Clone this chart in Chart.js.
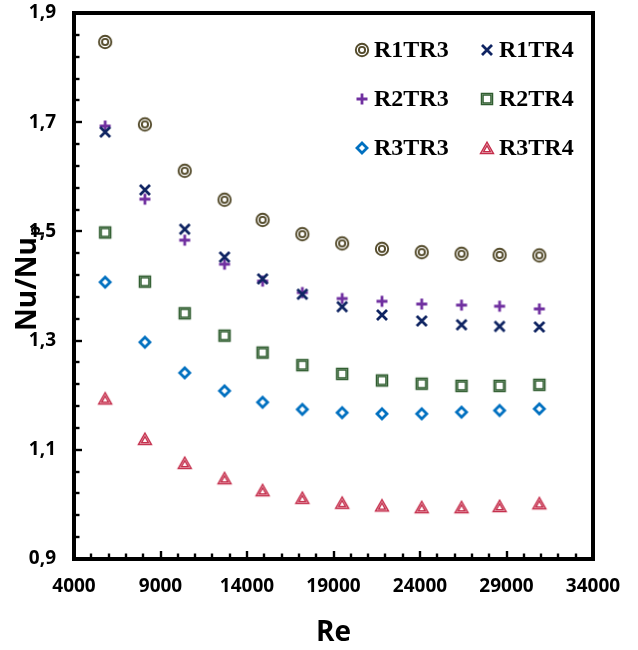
<!DOCTYPE html>
<html>
<head>
<meta charset="utf-8">
<script src="https://cdn.jsdelivr.net/npm/chart.js@4.4.0/dist/chart.umd.min.js"></script>
<style>
  html, body { margin: 0; padding: 0; background: #ffffff; }
  #wrap { width: 638px; height: 650px; }
</style>
</head>
<body>
<div id="wrap"><canvas id="c" width="638" height="650"></canvas></div>
<script>
// ---- data ----
const reValues = [5800, 8100, 10400, 12700, 14900, 17200, 19500, 21800, 24100, 26400, 28600, 30900];
const r1tr3 = [1.847, 1.696, 1.611, 1.558, 1.521, 1.495, 1.478, 1.468, 1.462, 1.459, 1.457, 1.456];
const r1tr4 = [1.682, 1.576, 1.504, 1.453, 1.413, 1.385, 1.362, 1.347, 1.336, 1.329, 1.326, 1.325];
const r2tr3 = [1.693, 1.559, 1.484, 1.440, 1.409, 1.388, 1.377, 1.372, 1.367, 1.365, 1.363, 1.358];
const r2tr4 = [1.498, 1.408, 1.350, 1.309, 1.278, 1.255, 1.239, 1.227, 1.221, 1.217, 1.217, 1.219];
const r3tr3 = [1.407, 1.297, 1.241, 1.208, 1.187, 1.174, 1.168, 1.166, 1.166, 1.169, 1.172, 1.175];
const r3tr4 = [1.194, 1.120, 1.076, 1.048, 1.026, 1.012, 1.003, 0.998, 0.995, 0.995, 0.997, 1.002];
const seriesNames = ['R1TR3', 'R1TR4', 'R2TR3', 'R2TR4', 'R3TR3', 'R3TR4'];
const xTickValues = [4000, 9000, 14000, 19000, 24000, 29000, 34000];
const yTickValues = [0.9, 1.1, 1.3, 1.5, 1.7, 1.9];
const xMinorStep = 1000;
const yMinorStep = 0.04;

// ---- marker images ----
function makeMarker(kind) {
  const c = document.createElement('canvas');
  c.width = 18; c.height = 18;
  const g = c.getContext('2d');
  g.translate(9, 9);
  g.lineJoin = 'miter';
  if (kind === 'dcircle') {
    g.strokeStyle = '#544b2b';
    g.lineWidth = 1.9;
    g.beginPath(); g.arc(0, 0, 6.2, 0, Math.PI * 2); g.stroke();
    g.beginPath(); g.arc(0, 0, 3.1, 0, Math.PI * 2); g.stroke();
  } else if (kind === 'cross') {
    g.strokeStyle = '#0f2462';
    g.lineWidth = 2.8;
    g.beginPath(); g.moveTo(-5, -5); g.lineTo(5, 5); g.moveTo(5, -5); g.lineTo(-5, 5); g.stroke();
  } else if (kind === 'plus') {
    g.strokeStyle = '#7030a0';
    g.lineWidth = 2.8;
    g.beginPath(); g.moveTo(-5.5, 0); g.lineTo(5.5, 0); g.moveTo(0, -5.5); g.lineTo(0, 5.5); g.stroke();
  } else if (kind === 'dsquare') {
    g.fillStyle = '#93b193';
    g.fillRect(-6, -6, 12, 12);
    g.fillStyle = '#ffffff';
    g.fillRect(-3.8, -3.8, 7.6, 7.6);
    g.strokeStyle = '#2f5c2f';
    g.lineWidth = 1.3;
    g.strokeRect(-5.6, -5.6, 11.2, 11.2);
    g.strokeRect(-3.9, -3.9, 7.8, 7.8);
  } else if (kind === 'diamond') {
    g.strokeStyle = '#0070c0';
    g.lineWidth = 2.8;
    g.beginPath(); g.moveTo(0, -5); g.lineTo(5, 0); g.lineTo(0, 5); g.lineTo(-5, 0); g.closePath(); g.stroke();
  } else if (kind === 'dtriangle') {
    const outer = [[0, -6], [6.6, 5.6], [-6.6, 5.6]];
    const inner = [[0, -2.2], [3.3, 3.6], [-3.3, 3.6]];
    const path = (pts) => { g.beginPath(); g.moveTo(pts[0][0], pts[0][1]); g.lineTo(pts[1][0], pts[1][1]); g.lineTo(pts[2][0], pts[2][1]); g.closePath(); };
    path(outer); g.fillStyle = '#e7a3b0'; g.fill();
    path(inner); g.fillStyle = '#ffffff'; g.fill();
    g.strokeStyle = '#c42c4a'; g.lineWidth = 1.3;
    path(outer); g.stroke();
    path(inner); g.stroke();
  }
  return c;
}

const markers = ['dcircle', 'cross', 'plus', 'dsquare', 'diamond', 'dtriangle'].map(makeMarker);
const seriesValues = [r1tr3, r1tr4, r2tr3, r2tr4, r3tr3, r3tr4];

const datasets = seriesValues.map((vals, i) => ({
  label: seriesNames[i],
  data: reValues.map((x, k) => ({ x: x, y: vals[k] })),
  pointStyle: markers[i],
  pointRadius: 7,
  showLine: false
}));

// ---- plugins: frame, inner ticks, y title, legend ----
const framePlugin = {
  id: 'frame',
  afterDraw(chart) {
    const { ctx, chartArea: a, scales: { x, y } } = chart;
    ctx.save();
    ctx.strokeStyle = '#000';
    ctx.lineWidth = 2.4;
    for (let v = x.min; v <= x.max + 1e-6; v += xMinorStep) {
      const px = Math.round(x.getPixelForValue(v));
      if (px <= a.left + 2 || px >= a.right - 2) continue;
      const major = xTickValues.some(t => Math.abs(t - v) < 1e-6);
      const len = major ? 8 : 5.5;
      ctx.beginPath(); ctx.moveTo(px, a.bottom); ctx.lineTo(px, a.bottom - len); ctx.stroke();
    }
    for (let k = 0; ; k++) {
      const v = y.min + k * yMinorStep;
      if (v > y.max + 1e-6) break;
      const py = Math.round(y.getPixelForValue(v));
      if (py <= a.top + 2 || py >= a.bottom - 2) continue;
      const major = yTickValues.some(t => Math.abs(t - v) < 1e-6);
      const len = major ? 8 : 5.5;
      ctx.beginPath(); ctx.moveTo(a.left, py); ctx.lineTo(a.left + len, py); ctx.stroke();
    }
    ctx.lineWidth = 4;
    ctx.lineJoin = 'miter';
    ctx.strokeRect(a.left, a.top, a.right - a.left, a.bottom - a.top);

    // y axis title with subscript
    ctx.fillStyle = '#000';
    ctx.translate(36, 331);
    ctx.rotate(-Math.PI / 2);
    ctx.textAlign = 'left';
    ctx.textBaseline = 'alphabetic';
    ctx.font = 'bold 28px "Open Sans"';
    ctx.fillText('Nu/Nu', 0, 0);
    const w = ctx.measureText('Nu/Nu').width;
    ctx.font = 'bold 16px "Open Sans"';
    ctx.fillText('p', w + 1, 4);
    ctx.restore();

    // legend
    ctx.save();
    ctx.font = 'bold 24px "Liberation Serif"';
    ctx.fillStyle = '#000';
    ctx.textAlign = 'left';
    ctx.textBaseline = 'middle';
    const colX = [a.left + 288, a.left + 413];
    const rowY = [a.top + 37, a.top + 86, a.top + 135];
    chart.data.datasets.forEach((ds, i) => {
      const cx = colX[i % 2], cy = rowY[Math.floor(i / 2)];
      const img = ds.pointStyle;
      ctx.drawImage(img, cx - img.width / 2, cy - img.height / 2);
      ctx.fillText(ds.label, cx + 12, cy + 1);
    });
    ctx.restore();
  }
};

new Chart(document.getElementById('c'), {
  type: 'scatter',
  data: { datasets: datasets },
  plugins: [framePlugin],
  options: {
    responsive: false,
    animation: false,
    events: [],
    layout: { padding: { top: 13, right: 45, left: 0, bottom: 0 } },
    plugins: { legend: { display: false }, tooltip: { enabled: false } },
    scales: {
      x: {
        type: 'linear',
        min: 4000,
        max: 34000,
        afterBuildTicks: (s) => { s.ticks = xTickValues.map(v => ({ value: v })); },
        afterFit: (s) => { s.height = 91; s.paddingLeft = 0; s.paddingRight = 0; },
        grid: { display: false, drawTicks: false },
        border: { display: false },
        ticks: {
          color: '#000',
          padding: 16,
          maxRotation: 0,
          autoSkip: false,
          font: { family: '"Open Sans"', weight: 'bold', size: 19 },
          callback: (v) => String(v)
        },
        title: {
          display: true,
          text: 'Re',
          color: '#000',
          padding: { top: 0, bottom: 0 },
          font: { family: '"Open Sans"', weight: 'bold', size: 28 }
        }
      },
      y: {
        type: 'linear',
        min: 0.9,
        max: 1.9,
        afterBuildTicks: (s) => { s.ticks = yTickValues.map(v => ({ value: v })); },
        afterFit: (s) => { s.width = 74; s.paddingTop = 0; s.paddingBottom = 0; },
        grid: { display: false, drawTicks: false },
        border: { display: false },
        ticks: {
          color: '#000',
          padding: 18,
          autoSkip: false,
          font: { family: '"Open Sans"', weight: 'bold', size: 19 },
          callback: (v) => Number(v).toFixed(1).replace('.', ',')
        }
      }
    }
  }
});
</script>
</body>
</html>
